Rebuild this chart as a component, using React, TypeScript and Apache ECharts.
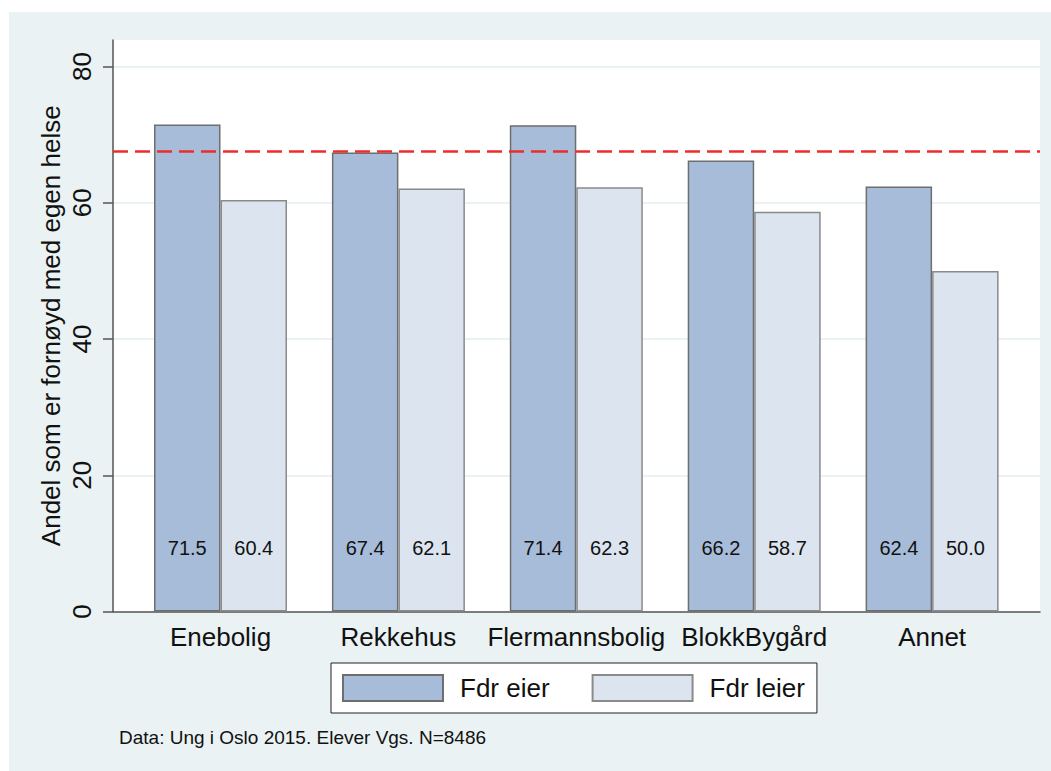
import React, { useEffect, useRef } from "react";
import * as echarts from "echarts";

const categories = ["Enebolig", "Rekkehus", "Flermannsbolig", "BlokkBygård", "Annet"];
const eierValues = [71.5, 67.4, 71.4, 66.2, 62.4];
const leierValues = [60.4, 62.1, 62.3, 58.7, 50.0];
const yTicks = [0, 20, 40, 60, 80];
const referenceValue = 67.6;
const seriesNames = ["Fdr eier", "Fdr leier"];
const yTitle = "Andel som er fornøyd med egen helse";
const footnote = "Data: Ung i Oslo 2015. Elever Vgs. N=8486";

const FONT = "'Liberation Sans', Arial, Helvetica, sans-serif";
const BG = "#EAF2F3";
const AXIS = "#555555";
const YMAX = 83.9;

export default function App() {
  const ref = useRef<HTMLDivElement>(null);
  useEffect(() => {
    if (!ref.current) return;
    const chart = echarts.init(ref.current, null, { renderer: "svg" });
    const labelCfg = {
      show: true,
      position: "insideBottom",
      distance: 54,
      fontSize: 20,
      fontFamily: FONT,
      color: "#111",
      formatter: (p: any) => Number(p.value).toFixed(1),
    };
    chart.setOption({
      animation: false,
      textStyle: { fontFamily: FONT },
      graphic: [
        {
          type: "rect",
          z: -10,
          silent: true,
          shape: { x: 9, y: 12, width: 1042, height: 759 },
          style: { fill: BG },
        },
        {
          type: "text",
          x: 119,
          y: 737,
          style: {
            text: footnote,
            fontSize: 19,
            fontFamily: FONT,
            fill: "#111",
            verticalAlign: "middle",
          },
        },
      ],
      grid: [
        {
          left: 113,
          right: 11,
          top: 40,
          bottom: 159.5,
          show: true,
          backgroundColor: "#ffffff",
          borderWidth: 0,
        },
        { left: 131.55, right: 29.95, top: 40, bottom: 159.5 },
      ],
      xAxis: [
        {
          gridIndex: 0,
          type: "value",
          min: 0,
          max: 1,
          axisLine: { show: true, lineStyle: { color: AXIS, width: 1.5 } },
          axisTick: { show: false },
          axisLabel: { show: false },
          splitLine: { show: false },
        },
        {
          gridIndex: 1,
          type: "category",
          data: categories,
          axisLine: { show: false },
          axisTick: { show: false },
          axisLabel: { fontSize: 26, color: "#111", fontFamily: FONT, margin: 12, interval: 0 },
          splitLine: { show: false },
        },
      ],
      yAxis: [
        {
          gridIndex: 0,
          type: "value",
          min: 0,
          max: YMAX,
          interval: 20,
          name: yTitle,
          nameLocation: "middle",
          nameRotate: 90,
          nameGap: 49,
          nameMoveOverlap: false,
          nameTextStyle: { fontSize: 26, color: "#111", fontFamily: FONT },
          axisLine: { show: true, lineStyle: { color: AXIS, width: 1.5 } },
          axisTick: {
            show: true,
            length: 10,
            customValues: yTicks,
            lineStyle: { color: AXIS, width: 1.5 },
          },
          axisLabel: {
            rotate: 90,
            fontSize: 26,
            color: "#111",
            fontFamily: FONT,
            margin: 18,
            customValues: yTicks,
            formatter: (v: number) => (v % 20 === 0 ? String(v) : ""),
          },
          splitLine: { show: true, lineStyle: { color: BG, width: 2 } },
        },
        {
          gridIndex: 1,
          type: "value",
          min: 0,
          max: YMAX,
          show: false,
          splitLine: { show: false },
        },
      ],
      legend: {
        left: 331,
        top: 663,
        orient: "horizontal",
        data: seriesNames,
        icon: "rect",
        itemWidth: 100,
        itemHeight: 26,
        itemGap: 42,
        padding: [11, 12, 11, 11],
        borderColor: "#222",
        borderWidth: 1,
        backgroundColor: "#ffffff",
        textStyle: { fontSize: 26, color: "#111", fontFamily: FONT, padding: [0, 0, 0, 12] },
      },
      series: [
        {
          type: "line",
          xAxisIndex: 0,
          yAxisIndex: 0,
          data: [],
          z: 1,
          silent: true,
          markLine: {
            silent: true,
            symbol: "none",
            label: { show: false },
            lineStyle: { color: "#EE2C2C", width: 2.5, type: [15, 7] },
            data: [{ yAxis: referenceValue }],
          },
        },
        {
          name: seriesNames[0],
          type: "bar",
          xAxisIndex: 1,
          yAxisIndex: 1,
          data: eierValues,
          barWidth: 66.5,
          barGap: "0%",
          z: 3,
          itemStyle: { color: "#A7BCD9", borderColor: "#6E6E6E", borderWidth: 1.5 },
          label: labelCfg,
        },
        {
          name: seriesNames[1],
          type: "bar",
          xAxisIndex: 1,
          yAxisIndex: 1,
          data: leierValues,
          barWidth: 66.5,
          barGap: "0%",
          z: 3,
          itemStyle: { color: "#DCE5EF", borderColor: "#8A8A8A", borderWidth: 1.5 },
          label: labelCfg,
        },
      ],
    });
    return () => chart.dispose();
  }, []);
  return (
    <div
      ref={ref}
      style={{ position: "absolute", left: 0, top: 0, width: 1051, height: 771, background: "#ffffff" }}
    />
  );
}
